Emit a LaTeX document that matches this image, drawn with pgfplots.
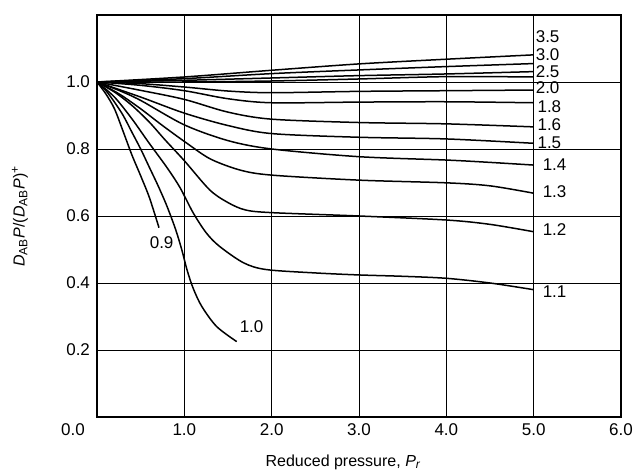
\documentclass[border=0pt]{standalone}
\usepackage{pgfplots}
\pgfplotsset{compat=1.18}
\usepackage{fontspec}
\setmainfont{Liberation Sans}
\begin{document}
\begin{tikzpicture}
\begin{axis}[name=ax, scale only axis, width=262pt, height=201pt,
  xmin=0, xmax=6, ymin=0, ymax=1.2,
  xtick={1,2,3,4,5,6}, ytick={0.2,0.4,0.6,0.8,1.0},
  extra x ticks={0}, extra x tick style={grid=none, xticklabel style={xshift=-12pt}},
  grid=major, major grid style={black, line width=0.45pt},
  axis line style={line width=0.9pt},
  major tick length=0pt,
  tick label style={font=\fontsize{8.5}{10}\selectfont},
  label style={font=\fontsize{8}{9.5}\selectfont},
  /pgf/number format/fixed, /pgf/number format/fixed zerofill,
  /pgf/number format/precision=1, /pgf/number format/assume math mode=true,
  xlabel={Reduced pressure, \textit{P\textsubscript{r}}},
  ylabel={\textit{D}\textsubscript{AB}\textit{P}/(\textit{D}\textsubscript{AB}\textit{P})\textsuperscript{+}},
  xlabel style={at={(axis description cs:0.47,-0.112)}, anchor=center},
  ylabel style={at={(axis description cs:-0.147,0.5)}, anchor=center},
  cycle list={{black, no marks}},
  every axis plot/.append style={line width=0.75pt, smooth, tension=0.5},
  clip=false,
]
% Tr = 0.9
\addplot coordinates {(0,1) (0.1,0.965) (0.2,0.92) (0.3,0.852) (0.4,0.782) (0.5,0.72) (0.6,0.655) (0.71,0.565)};
% Tr = 1.0
\addplot coordinates {(0,1) (0.1,0.975) (0.2,0.94) (0.3,0.9) (0.4,0.85) (0.5,0.8) (0.6,0.745) (0.7,0.69) (0.8,0.63) (0.9,0.56) (0.97,0.50) (1.03,0.44) (1.1,0.385) (1.2,0.33) (1.37,0.27) (1.6,0.225)};
% Tr = 1.1
\addplot coordinates {(0,1) (0.2,0.955) (0.4,0.89) (0.59,0.82) (0.8,0.745) (0.95,0.685) (1.1,0.61) (1.25,0.55) (1.4,0.51) (1.68,0.46) (1.94,0.44) (2.5,0.43) (3,0.424) (3.5,0.42) (4,0.414) (4.5,0.40) (5,0.38)};
% Tr = 1.2
\addplot coordinates {(0,1) (0.2,0.97) (0.4,0.93) (0.6,0.88) (0.78,0.827) (1.0,0.765) (1.29,0.678) (1.5,0.64) (1.7,0.618) (2,0.61) (3,0.60) (4,0.588) (4.5,0.575) (5,0.553)};
% Tr = 1.3
\addplot coordinates {(0,1) (0.25,0.965) (0.5,0.92) (0.75,0.87) (1.03,0.817) (1.3,0.77) (1.64,0.737) (2,0.722) (3,0.707) (4,0.699) (4.5,0.69) (5,0.668)};
% Tr = 1.4
\addplot coordinates {(0,1) (0.25,0.975) (0.5,0.945) (1,0.872) (1.5,0.825) (2,0.80) (3,0.777) (4,0.767) (4.5,0.76) (5,0.752)};
% Tr = 1.5
\addplot coordinates {(0,1) (0.5,0.955) (1,0.907) (1.5,0.87) (2,0.846) (3,0.835) (4,0.83) (5,0.817)};
% Tr = 1.6
\addplot coordinates {(0,1) (0.5,0.975) (1,0.948) (1.5,0.91) (2,0.889) (3,0.879) (4,0.875) (5,0.866)};
% Tr = 1.8
\addplot coordinates {(0,1) (0.5,0.99) (1,0.974) (1.5,0.95) (2,0.938) (3,0.94) (4,0.941) (5,0.938)};
% Tr = 2.0
\addplot coordinates {(0,1) (0.5,0.995) (1,0.985) (1.5,0.973) (2,0.968) (3,0.972) (4,0.974) (5,0.976)};
% unlabeled line near 2.5
\addplot coordinates {(0,1) (1,1.0) (2,1.003) (3,1.009) (4,1.016) (5,1.015)};
% Tr = 2.5
\addplot coordinates {(0,1) (1,1.005) (2,1.012) (3,1.019) (4,1.024) (5,1.031)};
% Tr = 3.0
\addplot coordinates {(0,1) (1,1.01) (2,1.025) (3,1.036) (4,1.046) (5,1.055)};
% Tr = 3.5
\addplot coordinates {(0,1) (1,1.015) (2,1.035) (3,1.054) (4,1.068) (5,1.081)};

\begin{scope}[every node/.style={font=\fontsize{8.5}{10}\selectfont, inner sep=0pt, anchor=west}]
\node at (axis cs:5.02,1.134) {3.5};
\node at (axis cs:5.02,1.081) {3.0};
\node at (axis cs:5.02,1.030) {2.5};
\node at (axis cs:5.02,0.982) {2.0};
\node at (axis cs:5.04,0.925) {1.8};
\node at (axis cs:5.04,0.872) {1.6};
\node at (axis cs:5.04,0.818) {1.5};
\node at (axis cs:5.1,0.752) {1.4};
\node at (axis cs:5.1,0.672) {1.3};
\node at (axis cs:5.1,0.558) {1.2};
\node at (axis cs:5.1,0.373) {1.1};
\node[anchor=center] at (axis cs:0.74,0.52) {0.9};
\node[anchor=center] at (axis cs:1.77,0.27) {1.0};
\end{scope}
\end{axis}
\pgfresetboundingbox
\path (ax.south west) ++(-48.5pt,-28.5pt) coordinate (bl);
\path (ax.north east) ++(8pt,7.5pt) coordinate (tr);
\useasboundingbox (bl) rectangle (tr);
\end{tikzpicture}
\end{document}
